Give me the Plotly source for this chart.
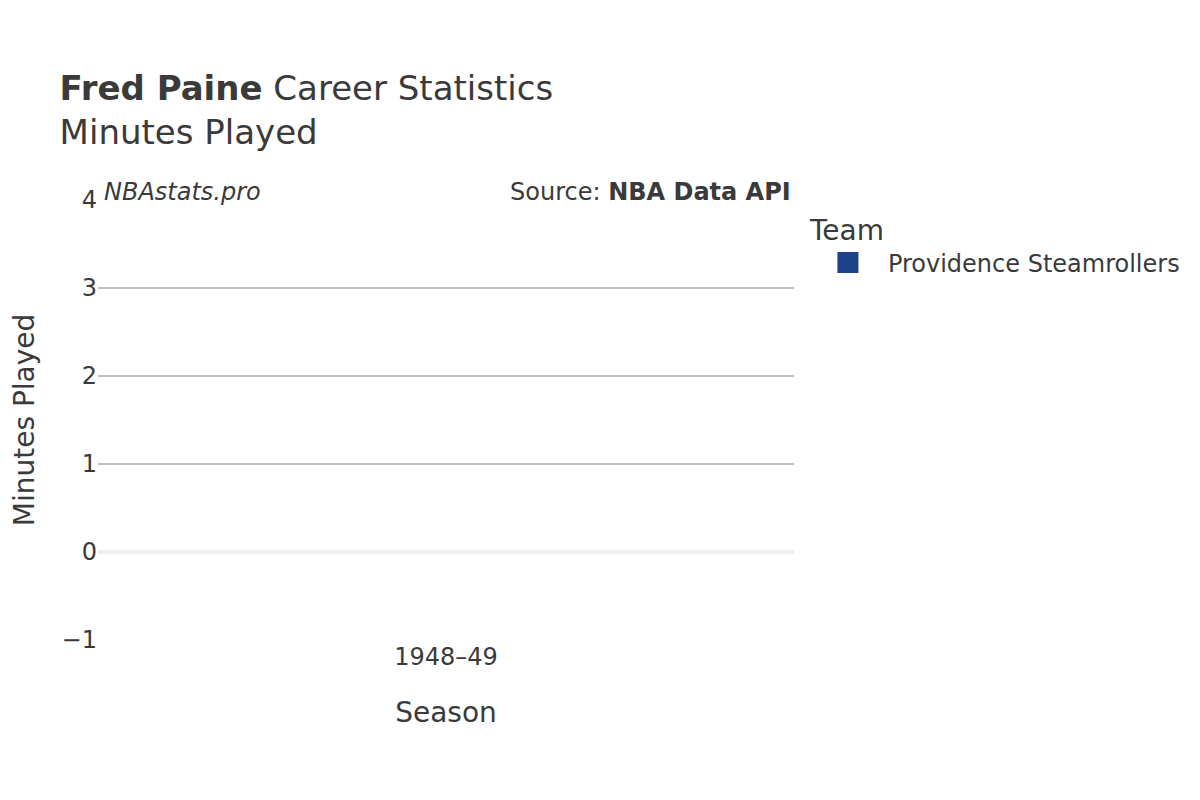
import plotly.graph_objects as go

# data
seasons = ["1948–49"]
teams = ["Providence Steamrollers"]
minutes = [None]  # no minutes on record for this season
team_colors = {"Providence Steamrollers": "#1D428A"}

player = "Fred Paine"
stat_name = "Minutes Played"

fig = go.Figure()

for team in teams:
    fig.add_trace(
        go.Bar(
            x=seasons,
            y=minutes,
            name=team,
            legendgroup=team,
            showlegend=False,
            marker=dict(color=team_colors[team], cornerradius=4),
        )
    )
    # legend entry (bigger square than the default bar swatch)
    fig.add_trace(
        go.Scatter(
            x=[None],
            y=[None],
            mode="markers",
            name=team,
            legendgroup=team,
            marker=dict(
                symbol="square",
                size=16,
                color=team_colors[team],
                line=dict(color=team_colors[team], width=5),
            ),
        )
    )

font_family = "DejaVu Sans"
text_color = "#3a3a3a"

fig.update_layout(
    width=1200,
    height=800,
    template="plotly_white",
    font=dict(family=font_family, color=text_color, size=24),
    title=dict(
        text=f"<b>{player}</b> Career Statistics<br>{stat_name}",
        x=0.043,
        xanchor="left",
        y=0.885,
        yanchor="top",
        font=dict(size=34),
    ),
    margin=dict(l=90, r=414, t=192, b=168),
    legend=dict(
        title=dict(text="Team", font=dict(size=28)),
        font=dict(size=24),
        itemwidth=70,
        x=1.02,
        y=0.991,
        yanchor="top",
    ),
    xaxis=dict(
        title=dict(text="Season", font=dict(size=28), standoff=32),
        showgrid=False,
        tickfont=dict(size=24),
    ),
    yaxis=dict(
        title=dict(text=stat_name, font=dict(size=28), standoff=33),
        automargin=False,
        range=[-1, 4],
        dtick=1,
        gridcolor="#c0c0c0",
        gridwidth=1.5,
        zerolinecolor="#eeeeee",
        zerolinewidth=4,
        tickfont=dict(size=24),
    ),
    annotations=[
        dict(
            text="<i>NBAstats.pro</i>",
            xref="paper",
            yref="paper",
            x=0.006,
            y=1.018,
            xanchor="left",
            yanchor="middle",
            showarrow=False,
            font=dict(size=24),
        ),
        dict(
            text="Source: <b>NBA Data API</b>",
            xref="paper",
            yref="paper",
            x=0.9985,
            y=1.018,
            xanchor="right",
            yanchor="middle",
            showarrow=False,
            font=dict(size=24),
        ),
    ],
)

fig.write_html("out.html")
